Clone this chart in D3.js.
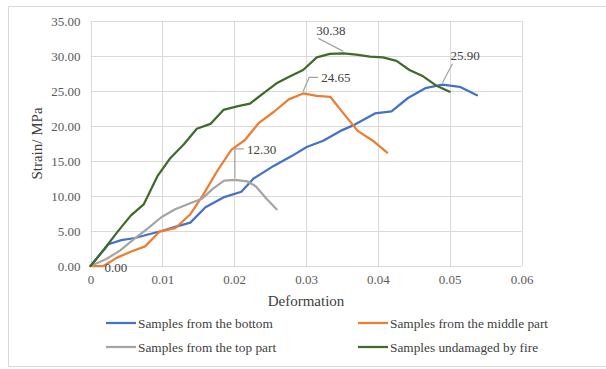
<!DOCTYPE html>
<html>
<head>
<meta charset="utf-8">
<script src="https://cdn.jsdelivr.net/npm/d3@7"></script>
<style>
  html, body { margin: 0; padding: 0; background: #fff; }
  svg { display: block; }
  svg text { font-family: "Liberation Serif", "Times New Roman", Times, serif; }
</style>
</head>
<body>
<svg id="chart" width="606" height="369"></svg>
<script>
// Stress–deformation curves, one array pair per sample group
const bottomDef = [0, 0.0025, 0.0043, 0.0062, 0.0080, 0.0099, 0.0118, 0.0139, 0.0160, 0.0185, 0.0210, 0.0227, 0.0255, 0.0280, 0.0301, 0.0324, 0.0348, 0.0368, 0.0396, 0.0419, 0.0442, 0.0466, 0.0490, 0.0514, 0.0538];
const bottomVal = [0, 3.1, 3.7, 4.0, 4.5, 5.0, 5.6, 6.2, 8.4, 9.8, 10.6, 12.5, 14.3, 15.7, 17.0, 17.9, 19.3, 20.2, 21.8, 22.1, 24.0, 25.4, 25.90, 25.6, 24.4];

const middleDef = [0, 0.0018, 0.0037, 0.0055, 0.0076, 0.0096, 0.0118, 0.0139, 0.0157, 0.0176, 0.0196, 0.0215, 0.0234, 0.0255, 0.0276, 0.0296, 0.0315, 0.0334, 0.0353, 0.0372, 0.0393, 0.0413];
const middleVal = [0, 0.00, 1.2, 2.0, 2.8, 4.9, 5.4, 7.4, 10.2, 13.5, 16.6, 18.0, 20.4, 22.0, 23.8, 24.65, 24.3, 24.15, 21.7, 19.3, 17.9, 16.2];

const topDef = [0, 0.0022, 0.0041, 0.0060, 0.0079, 0.0099, 0.0118, 0.0137, 0.0155, 0.0171, 0.0186, 0.0201, 0.0218, 0.0230, 0.0245, 0.0259];
const topVal = [0, 1.0, 2.2, 3.8, 5.3, 7.0, 8.1, 8.9, 9.6, 11.1, 12.2, 12.30, 12.1, 11.4, 9.6, 8.1];

const intactDef = [0, 0.0019, 0.0037, 0.0056, 0.0074, 0.0093, 0.0111, 0.0130, 0.0148, 0.0167, 0.0185, 0.0204, 0.0222, 0.0241, 0.0259, 0.0278, 0.0296, 0.0315, 0.0333, 0.0352, 0.0370, 0.0389, 0.0407, 0.0426, 0.0444, 0.0463, 0.0481, 0.0500];
const intactVal = [0, 2.4, 4.8, 7.2, 8.8, 12.8, 15.4, 17.4, 19.6, 20.3, 22.3, 22.8, 23.2, 24.7, 26.1, 27.1, 28.0, 29.8, 30.3, 30.38, 30.2, 29.9, 29.8, 29.3, 28.0, 27.1, 25.8, 24.9];

const seriesNames = ["Samples from the bottom", "Samples from the middle part", "Samples from the top part", "Samples undamaged by fire"];
const seriesColors = ["#4472C4", "#ED7D31", "#A5A5A5", "#3E6B2B"];

const xTicks = [0, 0.01, 0.02, 0.03, 0.04, 0.05, 0.06];
const yTicks = [0, 5, 10, 15, 20, 25, 30, 35];

// value labels: series index, point index, label placement
const valueLabels = [
  { s: 1, i: 1, dx: 1, dy: 1, leader: null },
  { s: 2, i: 11, dx: 12, dy: -31, leader: "elbow" },
  { s: 1, i: 15, dx: 18, dy: -16, leader: "elbow" },
  { s: 3, i: 19, dx: -13, dy: -23, leader: "diag" },
  { s: 0, i: 22, dx: 22, dy: -29, leader: "diag" }
];

const FONT = "'Liberation Serif', 'Times New Roman', Times, serif";

const series = [
  { def: bottomDef, val: bottomVal },
  { def: middleDef, val: middleVal },
  { def: topDef, val: topVal },
  { def: intactDef, val: intactVal }
].map((d, k) => ({
  name: seriesNames[k],
  color: seriesColors[k],
  points: d.def.map((x, j) => ({ x, y: d.val[j] }))
}));

const svg = d3.select("#chart");

// outer chart frame
svg.append("path")
  .attr("d", "M606,6.5 H8.5 V366.5 H606")
  .attr("fill", "none")
  .attr("stroke", "#d9d9d9")
  .attr("stroke-width", 1);

const plot = { left: 90.5, right: 521.5, top: 21, bottom: 266 };

const x = d3.scaleLinear().domain([0, 0.06]).range([plot.left, plot.right]);
const y = d3.scaleLinear().domain([0, 35]).range([plot.bottom, plot.top]);

// gridlines
const grid = svg.append("g");
grid.selectAll("line.h").data(yTicks).join("line")
  .attr("x1", plot.left).attr("x2", plot.right)
  .attr("y1", d => Math.round(y(d)) + 0.5).attr("y2", d => Math.round(y(d)) + 0.5)
  .attr("stroke", "#d9d9d9").attr("stroke-width", 1);
grid.selectAll("line.v").data(xTicks).join("line")
  .attr("y1", plot.top).attr("y2", plot.bottom)
  .attr("x1", d => Math.round(x(d)) + 0.5).attr("x2", d => Math.round(x(d)) + 0.5)
  .attr("stroke", "#d9d9d9").attr("stroke-width", 1);

// axes (labels only; gridlines act as the axis lines)
const yAxis = d3.axisLeft(y).tickValues(yTicks).tickSize(0).tickPadding(10)
  .tickFormat(d3.format(".2f"));
const xAxis = d3.axisBottom(x).tickValues(xTicks).tickSize(0).tickPadding(10)
  .tickFormat(d => d === 0 ? "0" : d3.format(".2f")(d));

const gy = svg.append("g").attr("transform", `translate(${plot.left},0)`).call(yAxis);
const gx = svg.append("g").attr("transform", `translate(0,${plot.bottom})`).call(xAxis);
[gx, gy].forEach(g => {
  g.attr("font-family", FONT).attr("font-size", 13);
  g.select(".domain").remove();
  g.selectAll("text")
    .attr("fill", "#595959")
    .attr("font-family", FONT)
    .attr("font-size", 13);
});
gy.selectAll("text").attr("dy", "0.36em");
gx.selectAll("text").attr("dy", "0.6em");

// axis titles
svg.append("text")
  .attr("x", (plot.left + plot.right) / 2).attr("y", 306)
  .attr("text-anchor", "middle")
  .attr("fill", "#404040")
  .attr("font-family", FONT)
  .attr("font-size", 15)
  .text("Deformation");
svg.append("text")
  .attr("transform", `translate(42,${(plot.top + plot.bottom) / 2}) rotate(-90)`)
  .attr("text-anchor", "middle")
  .attr("fill", "#404040")
  .attr("font-family", FONT)
  .attr("font-size", 15)
  .text("Strain/ MPa");

// series lines
const line = d3.line().x(d => x(d.x)).y(d => y(d.y));
svg.append("g").selectAll("path").data(series).join("path")
  .attr("d", d => line(d.points))
  .attr("fill", "none")
  .attr("stroke", d => d.color)
  .attr("stroke-width", 2.25)
  .attr("stroke-linejoin", "round")
  .attr("stroke-linecap", "round");

// value labels with leader lines
const lab = svg.append("g");
valueLabels.forEach(l => {
  const p = series[l.s].points[l.i];
  const px = x(p.x), py = y(p.y);
  const tx = px + l.dx, ty = py + l.dy;
  if (l.leader === "elbow") {
    lab.append("path")
      .attr("d", `M${px},${py - 2} L${tx - 12},${ty} H${tx - 3}`)
      .attr("fill", "none").attr("stroke", "#A5A5A5").attr("stroke-width", 1.25);
  } else if (l.leader === "diag") {
    lab.append("line")
      .attr("x1", px).attr("y1", py - 2).attr("x2", tx - 12).attr("y2", ty + 8)
      .attr("stroke", "#A5A5A5").attr("stroke-width", 1.25);
  }
  lab.append("text")
    .attr("x", l.leader === "diag" ? tx - 14 : tx)
    .attr("y", ty)
    .attr("dy", "0.36em")
    .attr("fill", "#404040")
    .attr("font-family", FONT)
    .attr("font-size", 13)
    .text(p.y.toFixed(2));
});

// legend
const legendPos = [[106, 323], [358, 323], [106, 347], [358, 347]];
const leg = svg.append("g").selectAll("g").data(series).join("g")
  .attr("transform", (d, k) => `translate(${legendPos[k][0]},${legendPos[k][1]})`);
leg.append("line")
  .attr("x1", 0).attr("x2", 30).attr("y1", 0).attr("y2", 0)
  .attr("stroke", d => d.color).attr("stroke-width", 2.25);
leg.append("text")
  .attr("x", 32).attr("y", 0).attr("dy", "0.34em")
  .attr("fill", "#404040")
  .attr("font-family", FONT)
  .attr("font-size", 13.3)
  .text(d => d.name);
</script>
</body>
</html>
